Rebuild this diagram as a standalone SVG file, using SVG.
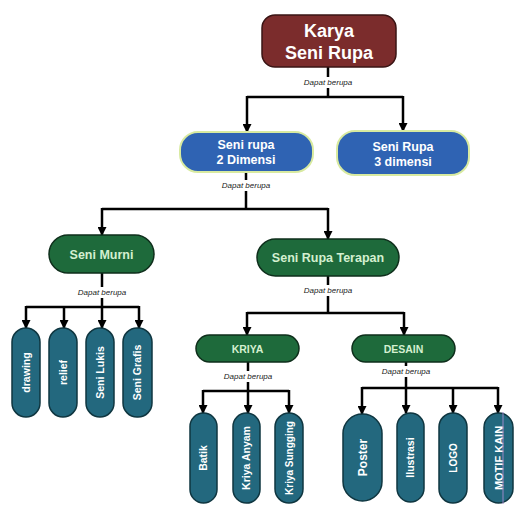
<svg xmlns="http://www.w3.org/2000/svg" width="526" height="532" viewBox="0 0 526 532">
<style>
text{font-family:"Liberation Sans",Arial,sans-serif;text-anchor:middle}
.red{fill:#7b2c2c;stroke:#3a1414;stroke-width:1.5}
.blue{fill:#2f63b3;stroke:#d8eaa0;stroke-width:2}
.green{fill:#1e6a3b;stroke:#0e2e1b;stroke-width:1.5}
.pill{fill:#23687e;stroke:#0f3640;stroke-width:1.5}
.tw{fill:#ffffff;font-weight:bold}
.tg{fill:#d4f0d0;font-weight:bold}
.lbl{fill:#222;font-size:8px;font-style:italic}
.c{fill:none;stroke:#000;stroke-width:2.5}
.a{marker-end:url(#arr)}
</style>
<defs>
<marker id="arr" markerUnits="userSpaceOnUse" markerWidth="9" markerHeight="9" refX="8" refY="4.5" orient="auto">
<path d="M0,0 L9,4.5 L0,9 z" fill="#000"/>
</marker>
</defs>
<rect width="526" height="532" fill="#fff"/>
<g id="connectors">
<path class="c" d="M328,67 V77 M328,88 V97 M247,97 H403"/>
<path class="c a" d="M247,96 V132"/>
<path class="c a" d="M403,96 V131"/>
<path class="c" d="M246,172 V180 M246,191 V209 M102,209 H328"/>
<path class="c a" d="M102,208 V235"/>
<path class="c a" d="M328,208 V239"/>
<path class="c" d="M102,273 V287 M102,298 V307 M26,307 H139"/>
<path class="c a" d="M26,306 V328"/>
<path class="c a" d="M64,306 V328"/>
<path class="c a" d="M102,306 V328"/>
<path class="c a" d="M139,306 V328"/>
<path class="c" d="M328,276 V285 M328,296 V313 M247,313 H404"/>
<path class="c a" d="M247,312 V335"/>
<path class="c a" d="M404,312 V335"/>
<path class="c" d="M248,362 V371 M248,382 V391 M203,391 H289"/>
<path class="c a" d="M203,390 V413"/>
<path class="c a" d="M248,390 V413"/>
<path class="c a" d="M289,390 V413"/>
<path class="c" d="M406,362 V366 M406,377 V388 M362,388 H498"/>
<path class="c a" d="M362,387 V414"/>
<path class="c a" d="M406,387 V413"/>
<path class="c a" d="M453,387 V413"/>
<path class="c a" d="M498,387 V413"/>
</g>
<g id="labels">
<text class="lbl" x="328" y="85">Dapat berupa</text>
<text class="lbl" x="246" y="188">Dapat berupa</text>
<text class="lbl" x="102" y="295">Dapat berupa</text>
<text class="lbl" x="328" y="293">Dapat berupa</text>
<text class="lbl" x="248" y="379">Dapat berupa</text>
<text class="lbl" x="406" y="374">Dapat berupa</text>
</g>
<g id="karya">
<rect class="red" x="262" y="15" width="134" height="52" rx="13"/>
<text class="tw" x="329" y="37" font-size="18">Karya</text>
<text class="tw" x="329" y="59" font-size="18">Seni Rupa</text>
</g>
<g id="dua-dimensi">
<rect class="blue" x="180" y="132" width="133" height="40" rx="18"/>
<text class="tw" x="246" y="149" font-size="12.5">Seni rupa</text>
<text class="tw" x="246" y="164" font-size="12.5">2 Dimensi</text>
</g>
<g id="tiga-dimensi">
<rect class="blue" x="337" y="131" width="132" height="44" rx="18"/>
<text class="tw" x="403" y="151" font-size="12.5">Seni Rupa</text>
<text class="tw" x="403" y="166" font-size="12.5">3 dimensi</text>
</g>
<g id="seni-murni">
<rect class="green" x="49" y="235" width="105" height="38" rx="19"/>
<text class="tg" x="101.5" y="258.5" font-size="12.5">Seni Murni</text>
</g>
<g id="seni-rupa-terapan">
<rect class="green" x="257" y="239" width="142" height="37" rx="18.5"/>
<text class="tg" x="328" y="262" font-size="12.5">Seni Rupa Terapan</text>
</g>
<g id="kriya">
<rect class="green" x="196" y="335" width="103" height="27" rx="13.5"/>
<text class="tg" x="247.5" y="352.5" font-size="10.5">KRIYA</text>
</g>
<g id="desain">
<rect class="green" x="352" y="335" width="103" height="27" rx="13.5"/>
<text class="tg" x="403.5" y="352.5" font-size="10.5">DESAIN</text>
</g>
<g id="drawing">
<rect class="pill" x="12" y="328" width="28" height="89" rx="14"/>
<text class="tw" font-size="10.5" transform="translate(29.5,372.5) rotate(-90)">drawing</text>
</g>
<g id="relief">
<rect class="pill" x="49" y="328" width="28" height="89" rx="14"/>
<text class="tw" font-size="10.5" transform="translate(66.5,372.5) rotate(-90)">relief</text>
</g>
<g id="seni-lukis">
<rect class="pill" x="86" y="328" width="28" height="89" rx="14"/>
<text class="tw" font-size="10.5" transform="translate(103.5,372.5) rotate(-90)">Seni Lukis</text>
</g>
<g id="seni-grafis">
<rect class="pill" x="123" y="328" width="29" height="89" rx="14"/>
<text class="tw" font-size="10.5" transform="translate(141,372.5) rotate(-90)">Seni Grafis</text>
</g>
<g id="batik">
<rect class="pill" x="190" y="413" width="27" height="90" rx="13.5"/>
<text class="tw" font-size="10.5" transform="translate(207,458) rotate(-90)">Batik</text>
</g>
<g id="kriya-anyam">
<rect class="pill" x="233" y="413" width="27" height="90" rx="13.5"/>
<text class="tw" font-size="10.5" transform="translate(250,458) rotate(-90)">Kriya Anyam</text>
</g>
<g id="kriya-sungging">
<rect class="pill" x="275" y="413" width="28" height="90" rx="14"/>
<text class="tw" font-size="10" transform="translate(292.5,458) rotate(-90)">Kriya Sungging</text>
</g>
<g id="poster">
<rect class="pill" x="343" y="414" width="39" height="87" rx="19.5"/>
<text class="tw" font-size="12" transform="translate(366.5,457.5) rotate(-90)">Poster</text>
</g>
<g id="ilustrasi">
<rect class="pill" x="397" y="413" width="27" height="89" rx="13.5"/>
<text class="tw" font-size="10.5" transform="translate(414,457.5) rotate(-90)">Ilustrasi</text>
</g>
<g id="logo">
<rect class="pill" x="439" y="413" width="28" height="90" rx="14"/>
<text class="tw" font-size="10" transform="translate(456.5,458) rotate(-90)">LOGO</text>
</g>
<g id="motif-kain">
<rect class="pill" x="484" y="413" width="29" height="90" rx="14.5"/>
<text class="tw" font-size="11" transform="translate(502.5,458) rotate(-90)">MOTIF KAIN</text>
<line x1="503" y1="412" x2="503" y2="504" stroke="#9a88c8" stroke-width="1"/>
</g>
</svg>
